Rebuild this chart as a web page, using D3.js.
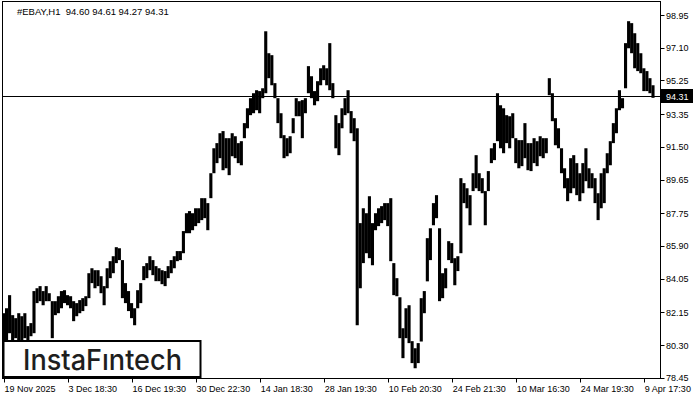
<!DOCTYPE html>
<html>
<head>
<meta charset="utf-8">
<script src="https://cdn.jsdelivr.net/npm/d3@7"></script>
<style>
body { margin: 0; background: #fff; }
svg text { font-family: "Liberation Sans", Arial, sans-serif; }
</style>
</head>
<body>
<script>
// EBAY H1 (one bar here ~ 3 hourly bars)
var symbol = "#EBAY,H1";
var lastOHLC = [94.60, 94.61, 94.27, 94.31];

var highs = [
  82.10, 82.38, 83.12, 81.99, 81.82, 82.10, 81.93, 82.10, 81.37, 81.54,
  83.35, 83.51, 83.63, 83.35, 83.63, 83.23, 82.78, 82.78, 83.06, 83.35,
  83.40, 83.12, 83.06, 82.78, 82.67, 82.84, 82.95, 83.06, 84.36, 84.64,
  84.53, 84.53, 84.19, 83.63, 84.64, 85.04, 85.32, 85.83, 85.77, 85.10,
  83.80, 83.35, 82.67, 82.38, 83.40, 83.80, 84.76, 84.93, 85.32, 85.10,
  84.76, 84.64, 84.53, 84.48, 84.76, 85.10, 85.32, 85.61, 85.61, 86.74,
  87.75, 87.87, 87.75, 88.03, 88.03, 88.60, 88.60, 88.32, 90.01, 91.42,
  91.71, 92.27, 92.39, 91.99, 91.99, 92.27, 92.10, 91.71, 91.82, 92.84,
  93.68, 94.25, 94.53, 94.70, 94.65, 94.81, 98.03, 96.79, 96.68, 95.10,
  94.25, 93.40, 92.16, 91.99, 92.10, 93.12, 94.25, 94.08, 94.14, 94.25,
  96.06, 95.49, 94.65, 95.21, 95.94, 96.11, 95.94, 97.36, 95.10, 93.29,
  92.84, 93.68, 94.25, 94.70, 93.52, 93.12, 92.55, 87.19, 88.03, 87.75,
  88.71, 87.19, 87.75, 88.03, 88.15, 88.32, 88.32, 88.60, 84.93, 84.08,
  83.00, 81.25, 82.38, 82.55, 80.52, 80.12, 80.41, 82.95, 83.35, 86.34,
  86.90, 88.32, 88.77, 86.90, 84.36, 84.64, 86.17, 86.06, 85.21, 85.32,
  89.73, 89.45, 89.16, 88.77, 90.01, 91.03, 90.01, 89.73, 89.00, 90.13,
  91.42, 91.71, 94.53, 93.85, 93.68, 93.29, 93.23, 93.40, 91.99, 91.88,
  91.88, 92.84, 91.71, 91.71, 91.99, 91.82, 92.10, 91.99, 91.99, 95.38,
  94.53, 93.12, 92.55, 91.42, 90.29, 89.73, 90.86, 91.03, 90.58, 90.01,
  90.58, 91.42, 90.29, 90.01, 89.73, 88.88, 90.01, 90.29, 91.14, 91.82,
  92.84, 93.68, 94.70, 94.25, 97.36, 98.60, 98.49, 97.92, 97.36, 96.79,
  95.94, 95.78, 95.38, 94.98
];

var lows = [
  80.41, 80.41, 80.97, 80.41, 80.69, 80.41, 80.41, 80.69, 80.58, 80.80,
  80.97, 82.67, 82.78, 82.55, 82.78, 82.78, 80.69, 81.99, 82.10, 82.38,
  82.67, 82.55, 82.38, 81.65, 81.93, 82.10, 82.22, 82.50, 82.95, 83.80,
  83.51, 83.63, 83.23, 82.55, 83.51, 84.08, 84.36, 84.93, 85.10, 82.95,
  82.67, 82.22, 81.82, 81.42, 82.38, 82.67, 83.97, 84.08, 84.53, 84.25,
  83.91, 83.91, 83.74, 83.63, 84.08, 84.36, 84.64, 85.04, 85.10, 85.49,
  86.62, 86.62, 86.79, 87.02, 87.19, 87.36, 87.47, 86.79, 88.60, 90.01,
  90.58, 90.86, 90.18, 90.29, 89.90, 90.97, 90.86, 90.58, 90.46, 91.99,
  92.55, 93.29, 93.40, 93.57, 93.40, 94.25, 94.53, 95.38, 94.98, 94.25,
  92.84, 91.99, 90.86, 90.97, 91.14, 92.27, 93.23, 93.23, 91.99, 93.40,
  94.53, 94.25, 93.85, 94.08, 94.98, 95.27, 94.98, 94.70, 94.25, 91.42,
  91.03, 92.55, 93.29, 93.40, 92.27, 91.82, 81.42, 83.51, 84.93, 85.49,
  85.21, 84.81, 86.79, 87.02, 87.19, 87.36, 87.02, 85.04, 83.12, 83.06,
  80.69, 79.56, 80.69, 80.41, 79.28, 78.99, 79.28, 80.50, 82.10, 83.90,
  85.10, 87.07, 87.47, 82.78, 82.95, 83.51, 85.10, 84.93, 83.68, 84.48,
  85.49, 88.32, 88.03, 87.07, 89.00, 89.16, 89.00, 88.88, 87.07, 89.00,
  90.58, 90.75, 91.82, 91.42, 91.14, 91.71, 91.42, 91.99, 90.58, 90.29,
  90.41, 90.86, 90.18, 90.13, 90.58, 90.41, 90.97, 90.86, 91.14, 94.42,
  92.95, 91.59, 91.42, 90.01, 89.16, 88.43, 88.88, 89.16, 88.77, 88.43,
  88.88, 89.56, 89.16, 89.16, 88.32, 87.36, 88.03, 88.32, 90.01, 90.46,
  91.71, 92.27, 93.57, 93.68, 94.81, 97.07, 96.79, 95.94, 95.78, 95.66,
  94.65, 94.65, 94.53, 94.27
];

var priceTicks = [98.95, 97.10, 95.25, 93.35, 91.50, 89.65, 87.75, 85.90, 84.05, 82.15, 80.30, 78.45];
var timeLabels = ["19 Nov 2025", "3 Dec 18:30", "16 Dec 19:30", "30 Dec 22:30", "14 Jan 18:30",
  "28 Jan 19:30", "10 Feb 20:30", "24 Feb 21:30", "10 Mar 16:30", "24 Mar 19:30", "9 Apr 17:30"];
var barsPerLabel = 21;

var width = 700, height = 400;
var plotL = 2.5, plotR = 660.5, plotT = 1.5, plotB = 378.5;

var svg = d3.select("body").append("svg")
    .attr("width", width)
    .attr("height", height);

var x = d3.scaleLinear().domain([0, highs.length - 1]).range([3.5, 653]);
var y = d3.scaleLinear().domain([78.45, 98.95]).range([377.8, 15]);

svg.append("clipPath").attr("id", "plot")
  .append("rect").attr("x", plotL).attr("y", plotT).attr("width", plotR - plotL).attr("height", plotB - plotT);

var bars = svg.append("g").attr("clip-path", "url(#plot)");

bars.selectAll("rect")
    .data(highs)
    .enter().append("rect")
    .attr("x", function(d, i) { return x(i) - 1.55; })
    .attr("width", 3.1)
    .attr("y", function(d) { return y(d); })
    .attr("height", function(d, i) { return Math.max(1, y(lows[i]) - y(d)); })
    .attr("fill", "#000");

// current price line
var last = lastOHLC[3];
svg.append("line")
    .attr("x1", plotL).attr("x2", plotR)
    .attr("y1", Math.round(y(last)) - 0.5).attr("y2", Math.round(y(last)) - 0.5)
    .attr("stroke", "#000").attr("stroke-width", 1);

// frame
svg.append("rect")
    .attr("x", plotL).attr("y", plotT)
    .attr("width", plotR - plotL).attr("height", plotB - plotT)
    .attr("fill", "none").attr("stroke", "#000").attr("stroke-width", 1);

// right price axis
var yAxis = svg.append("g");
yAxis.selectAll("line")
    .data(priceTicks)
    .enter().append("line")
    .attr("x1", plotR).attr("x2", plotR + 4)
    .attr("y1", function(d) { return Math.round(y(d)) + 0.5; })
    .attr("y2", function(d) { return Math.round(y(d)) + 0.5; })
    .attr("stroke", "#000");
yAxis.selectAll("text")
    .data(priceTicks)
    .enter().append("text")
    .attr("x", 666)
    .attr("y", function(d) { return y(d) + 3.5; })
    .attr("font-size", 9)
    .attr("fill", "#000")
    .text(function(d) { return d3.format(".2f")(d); });

// bid label
svg.append("rect")
    .attr("x", 661).attr("y", Math.round(y(last)) - 8)
    .attr("width", 32).attr("height", 14)
    .attr("fill", "#000");
svg.append("text")
    .attr("x", 666).attr("y", y(last) + 2.5)
    .attr("font-size", 9)
    .attr("fill", "#fff")
    .text(d3.format(".2f")(last));

// bottom time axis
var xAxis = svg.append("g");
xAxis.selectAll("line")
    .data(timeLabels)
    .enter().append("line")
    .attr("x1", function(d, i) { return Math.round(x(i * barsPerLabel)) + 0.5; })
    .attr("x2", function(d, i) { return Math.round(x(i * barsPerLabel)) + 0.5; })
    .attr("y1", plotB).attr("y2", plotB + 4)
    .attr("stroke", "#000");
xAxis.selectAll("text")
    .data(timeLabels)
    .enter().append("text")
    .attr("x", function(d, i) { return x(i * barsPerLabel) + 1; })
    .attr("y", 392)
    .attr("font-size", 9)
    .attr("fill", "#000")
    .text(function(d) { return d; });

// header
svg.append("text")
    .attr("x", 17).attr("y", 15)
    .attr("font-size", 9.5)
    .attr("fill", "#000")
    .style("white-space", "pre")
    .text(symbol + "  " + lastOHLC.map(d3.format(".2f")).join(" "));

// logo
svg.append("rect")
    .attr("x", 3.5).attr("y", 341)
    .attr("width", 197).attr("height", 36)
    .attr("fill", "#fff").attr("stroke", "#000").attr("stroke-width", 2);
svg.append("text")
    .attr("x", 23).attr("y", 370)
    .attr("font-size", 28)
    .attr("font-weight", 500)
    .attr("textLength", 159)
    .attr("lengthAdjust", "spacingAndGlyphs")
    .attr("fill", "#1e1e1e")
    .style("font-family", "Inter, 'Open Sans', sans-serif")
    .text("InstaFıntech");
</script>
</body>
</html>
